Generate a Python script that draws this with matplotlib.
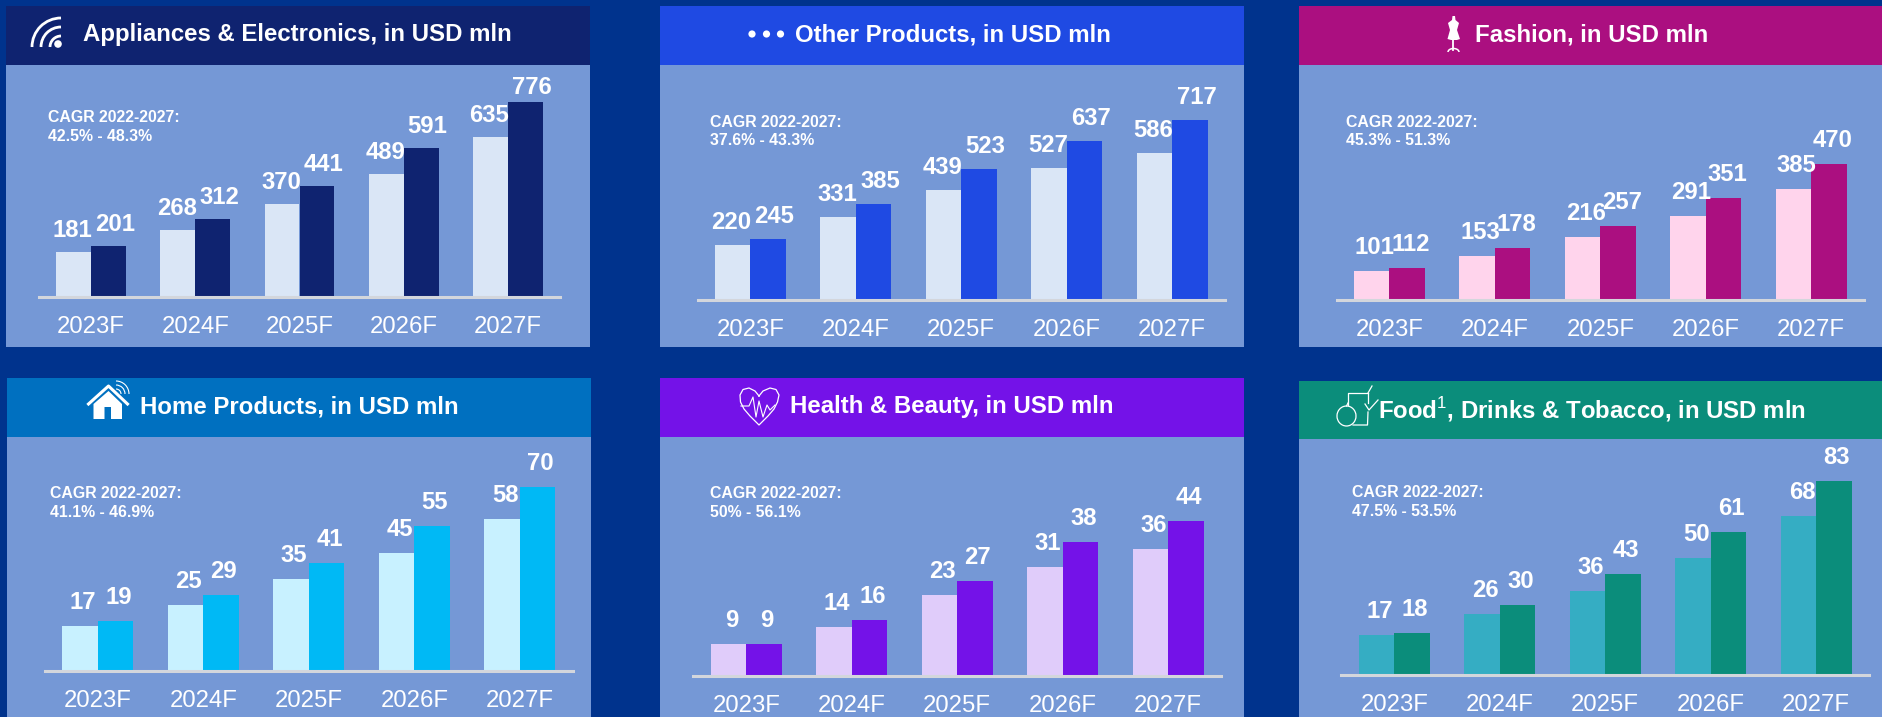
import numpy as np
import matplotlib
matplotlib.use('Agg')
import matplotlib.pyplot as plt
from matplotlib.patches import Rectangle, Circle, Polygon, Arc

plt.rcParams['font.family'] = ['Liberation Sans', 'DejaVu Sans']
plt.rcParams['mathtext.fontset'] = 'custom'
plt.rcParams['mathtext.rm'] = 'Liberation Sans'

W, H = 1883, 717

# Data
years = ['2023F', '2024F', '2025F', '2026F', '2027F']

appliances_low = [181, 268, 370, 489, 635]
appliances_high = [201, 312, 441, 591, 776]
other_low = [220, 331, 439, 527, 586]
other_high = [245, 385, 523, 637, 717]
fashion_low = [101, 153, 216, 291, 385]
fashion_high = [112, 178, 257, 351, 470]
home_low = [17, 25, 35, 45, 58]
home_high = [19, 29, 41, 55, 70]
health_low = [9, 14, 23, 31, 36]
health_high = [9, 16, 27, 38, 44]
food_low = [17, 26, 36, 50, 68]
food_high = [18, 30, 43, 61, 83]

titles = ['Appliances & Electronics, in USD mln', 'Other Products, in USD mln',
          'Fashion, in USD mln', 'Home Products, in USD mln',
          'Health & Beauty, in USD mln', 'Food$^{1}$, Drinks & Tobacco, in USD mln']
cagr = ['42.5% - 48.3%', '37.6% - 43.3%', '45.3% - 51.3%',
        '41.1% - 46.9%', '50% - 56.1%', '47.5% - 53.5%']

# Colours
bg_col = '#00338D'
panel_col = '#7598D6'
axis_col = '#D3D6DC'
header_cols = ['#0F2370', '#1F4AE3', '#AB0F80', '#0070C0', '#7412E8', '#0B8D7B']
dark_cols = ['#0F2370', '#1F4AE3', '#AB0F80', '#00B9F5', '#7412E8', '#0B8D7B']
light_cols = ['#DAE6F6', '#DAE6F6', '#FFD4EC', '#C8F1FF', '#E0CCFA', '#35ADC3']

# Layout in pixels of the picture
panel_x = [6, 660, 1299, 7, 660, 1299]
panel_r = [590, 1244, 1883, 591, 1244, 1883]
panel_top = [6, 6, 6, 378, 378, 381]
panel_hdr = [65, 65, 65, 437, 437, 439]
panel_bot = [347, 347, 347, 717, 717, 717]
title_x = [83, 795, 1475, 140, 790, 1378]
title_y = [35, 35, 35, 407, 407, 410]
axis_l = [39, 697.5, 1336.5, 45, 693.5, 1341.5]
axis_r = [560, 1225, 1864, 572.5, 1221, 1869]
base_y = [297, 300, 300, 671, 676, 675]
top_y = [102, 120.5, 164, 487, 521, 481]
cagr_x = [48.5, 710, 1346, 50.5, 710, 1352.5]
cagr_y = [127, 131.5, 131.5, 503, 503, 502]
# shift of the value labels from the top middle of their bars
low_dx = [-1, -1, 3, 3, 3, 3.5]
high_dx = [6.5, 6.5, 4, 3, 3, 3]
label_dy = [10, 11, 12, 12, 12, 12]

fig = plt.figure(figsize=(W / 100, H / 100), dpi=100, facecolor=bg_col)

# pixel canvas for panel backgrounds, headers, texts and icons
bg = fig.add_axes([0, 0, 1, 1], zorder=0)
bg.set_xlim(0, W)
bg.set_ylim(H, 0)
bg.axis('off')

top = fig.add_axes([0, 0, 1, 1], zorder=5)
top.set_xlim(0, W)
top.set_ylim(H, 0)
top.axis('off')
top.patch.set_alpha(0)

low = [appliances_low, other_low, fashion_low, home_low, health_low, food_low]
high = [appliances_high, other_high, fashion_high, home_high, health_high, food_high]

bar_w = 0.335
x = np.arange(len(years))

for i in range(6):
    bg.add_patch(Rectangle((panel_x[i], panel_top[i]), panel_r[i] - panel_x[i],
                           panel_bot[i] - panel_top[i], fc=panel_col, ec='none'))
    bg.add_patch(Rectangle((panel_x[i], panel_top[i]), panel_r[i] - panel_x[i],
                           panel_hdr[i] - panel_top[i], fc=header_cols[i], ec='none'))
    top.text(title_x[i], title_y[i], titles[i], color='white', fontsize=17.3,
             fontweight='bold', va='center', ha='left')
    top.text(cagr_x[i], cagr_y[i], 'CAGR 2022-2027:\n' + cagr[i], color='white',
             fontsize=11.4, fontweight='bold', va='center', ha='left', linespacing=1.33)

    ax = fig.add_axes([axis_l[i] / W, 1 - base_y[i] / H,
                       (axis_r[i] - axis_l[i]) / W, (base_y[i] - top_y[i]) / H], zorder=2)
    ax.patch.set_alpha(0)
    ax.bar(x - bar_w / 2, low[i], bar_w, color=light_cols[i])
    ax.bar(x + bar_w / 2, high[i], bar_w, color=dark_cols[i])
    ax.set_xlim(-0.5, 4.5)
    ax.set_ylim(0, max(high[i]))
    ax.set_yticks([])
    ax.set_xticks(x)
    ax.set_xticklabels(years, color='white', fontsize=17.2)
    ax.tick_params(axis='x', length=0, pad=14)
    for s in ['top', 'left', 'right']:
        ax.spines[s].set_visible(False)
    ax.spines['bottom'].set_color(axis_col)
    ax.spines['bottom'].set_linewidth(2.2)
    for j in range(len(years)):
        ax.annotate(str(low[i][j]), (x[j] - bar_w / 2, low[i][j]), xytext=(low_dx[i], label_dy[i]),
                    textcoords='offset pixels', ha='center', va='bottom', color='white',
                    fontsize=17.2, fontweight='bold', annotation_clip=False, zorder=6)
        # the tallest label of the first panel sits closer to its bar, under the header
        off = 3 if high[i][j] == 776 else label_dy[i]
        ax.annotate(str(high[i][j]), (x[j] + bar_w / 2, high[i][j]), xytext=(high_dx[i], off),
                    textcoords='offset pixels', ha='center', va='bottom', color='white',
                    fontsize=17.2, fontweight='bold', annotation_clip=False, zorder=6)

# Icons
# wifi
top.add_patch(Circle((58, 44), 3.8, fc='white', ec='none'))
for r in [11, 20, 29]:
    top.add_patch(Arc((61, 47), 2 * r, 2 * r, theta1=180, theta2=270, color='white', lw=2))

# three dots
for cx in [752, 766.5, 780.5]:
    top.add_patch(Circle((cx, 34), 3.6, fc='white', ec='none'))

# dress form
dress = [(1452.5, 16), (1455, 16), (1455.5, 20), (1459, 23), (1457, 30), (1460, 39),
         (1457, 40), (1451, 40), (1447.5, 39), (1450, 30), (1448, 23), (1452, 20)]
top.add_patch(Polygon(dress, fc='white', ec='none'))
top.plot([1453.5, 1453.5], [40, 50], color='white', lw=1.3)
top.add_patch(Arc((1453.5, 52), 11, 7, theta1=180, theta2=360, color='white', lw=1.1))

# home
top.add_patch(Polygon([(93.5, 404), (108.5, 391), (122, 404), (122, 419), (111, 419), (111, 407),
                       (104.5, 407), (104.5, 419), (93.5, 419)], fc='white', ec='none'))
top.plot([88.5, 108.5, 127.5], [404, 386, 404], color='white', lw=2.2)
for r in [5, 9, 13]:
    top.add_patch(Arc((116, 394), 2 * r, 2 * r, theta1=270, theta2=360, color='white', lw=0.8))

# heart with pulse
heart_x = [759, 755, 749, 743, 740, 740.5, 744, 750, 759, 768, 774, 777.5, 779, 776, 770, 763, 759]
heart_y = [396, 391, 388, 389.5, 395, 402, 409, 416, 425, 416, 409, 402, 395, 389.5, 388, 391, 396]
top.plot(heart_x, heart_y, color='white', lw=0.9)
top.plot([741, 749, 753, 756, 759, 763, 767, 770, 775], [406, 406, 397, 417, 401, 417, 405, 410, 405],
         color='white', lw=0.8)

# apple, glass and straw
top.add_patch(Arc((1346.5, 416), 19, 20, color='white', lw=0.9))
top.plot([1346.5, 1348], [406, 403], color='white', lw=0.9)
top.plot([1348.5, 1348.5, 1368], [405, 393, 393], color='white', lw=0.9)
top.plot([1368, 1368], [393, 403], color='white', lw=0.9)
top.plot([1368, 1372], [393, 386], color='white', lw=0.9)
top.plot([1368, 1367.5, 1353], [412, 425, 425], color='white', lw=0.9)
top.plot([1365, 1369, 1378], [404, 410, 400], color='white', lw=0.9)

fig.savefig('out.png', dpi=100, facecolor=bg_col)
